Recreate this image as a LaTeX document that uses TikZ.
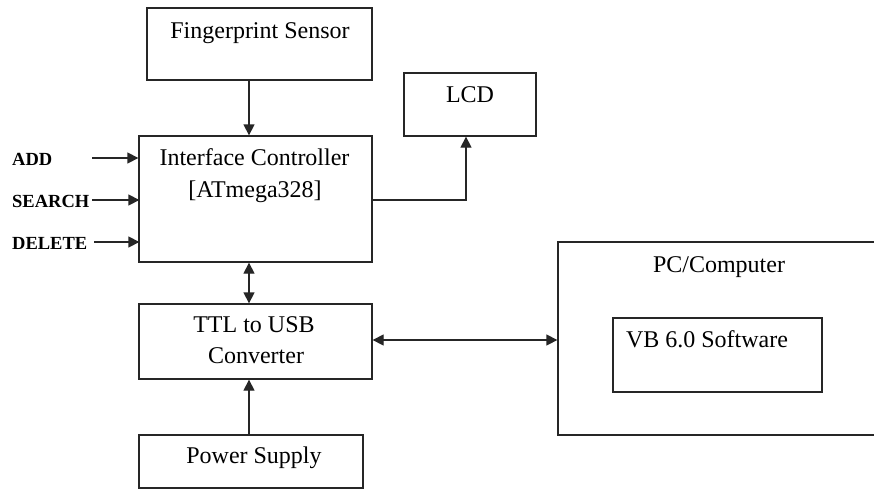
\documentclass[tikz,border=0pt]{standalone}
\usepackage{fontspec}
\setmainfont{Liberation Serif}
\usetikzlibrary{arrows.meta,calc}
\begin{document}
\begin{tikzpicture}[x=1pt,y=-1pt,
  box/.style={draw=black!85,line width=1.3pt,inner sep=0pt,rectangle},
  txt/.style={font=\fontsize{24}{27}\selectfont,anchor=base,inner sep=0pt},
  lbl/.style={font=\bfseries\fontsize{18.5}{22}\selectfont,anchor=base west,inner sep=0pt},
  wire/.style={draw=black!85,line width=1.3pt},
  arr/.style={wire,-{Triangle[length=11pt,width=11pt]}},
  darr/.style={wire,{Triangle[length=11pt,width=11pt]}-{Triangle[length=11pt,width=11pt]}}]
\useasboundingbox (0,0) rectangle (874,488);
\fill[white] (0,0) rectangle (874,488);
% boxes
\node[box,minimum width=225pt,minimum height=72pt] (fp) at (259.5,44) {};
\node[box,minimum width=132pt,minimum height=63pt] (lcd) at (470,104.5) {};
\node[box,minimum width=233pt,minimum height=126pt] (ctl) at (255.5,199) {};
\node[box,minimum width=233pt,minimum height=75pt] (ttl) at (255.5,341.5) {};
\node[box,minimum width=224pt,minimum height=53pt] (pwr) at (251,461.5) {};
\node[box,minimum width=340pt,minimum height=193pt] (pc) at (728,338.5) {};
\node[box,minimum width=209pt,minimum height=74pt] (vb) at (717.5,355) {};
% texts
\node[txt] (tfp) at (260,38) {Fingerprint Sensor};
\node[txt] (tlcd) at (470,102) {LCD};
\node[txt] (tctl1) at (254.5,165) {Interface Controller};
\node[txt] (tctl2) at (255,197) {[ATmega328]};
\node[txt] (tttl1) at (254,332) {TTL to USB};
\node[txt] (tttl2) at (256,363) {Converter};
\node[txt] (tpwr) at (254,463) {Power Supply};
\node[txt] (tpc) at (719,272) {PC/Computer};
\node[txt] (tvb) at (707,347) {VB 6.0 Software};
% side labels
\node[lbl] (ladd) at (12,165) {ADD};
\node[lbl] (lsearch) at (12,207) {SEARCH};
\node[lbl] (ldel) at (12,249) {DELETE};
\coordinate (a1) at (92,158);
\coordinate (a2) at (92,200);
\coordinate (a3) at (94,242);
\coordinate (axis) at (249,0);
% connectors
\draw[arr] (a1) -- (a1 -| ctl.west);
\draw[arr] (a2) -- ($(a2 -| ctl.west)+(1,0)$);
\draw[arr] (a3) -- ($(a3 -| ctl.west)+(1,0)$);
\draw[arr] (fp.south -| axis) -- (ctl.north -| axis);
\draw[arr] ($(ctl.east)+(0,1)$) -| ([xshift=-4pt]lcd.south);
\draw[darr] (ctl.south -| axis) -- (ttl.north -| axis);
\draw[darr] ($(ttl.east)+(0,-1.5)$) -- ($(ttl.east -| pc.west)+(0,-1.5)$);
\draw[arr] (pwr.north -| axis) -- (ttl.south -| axis);
\end{tikzpicture}
\end{document}
